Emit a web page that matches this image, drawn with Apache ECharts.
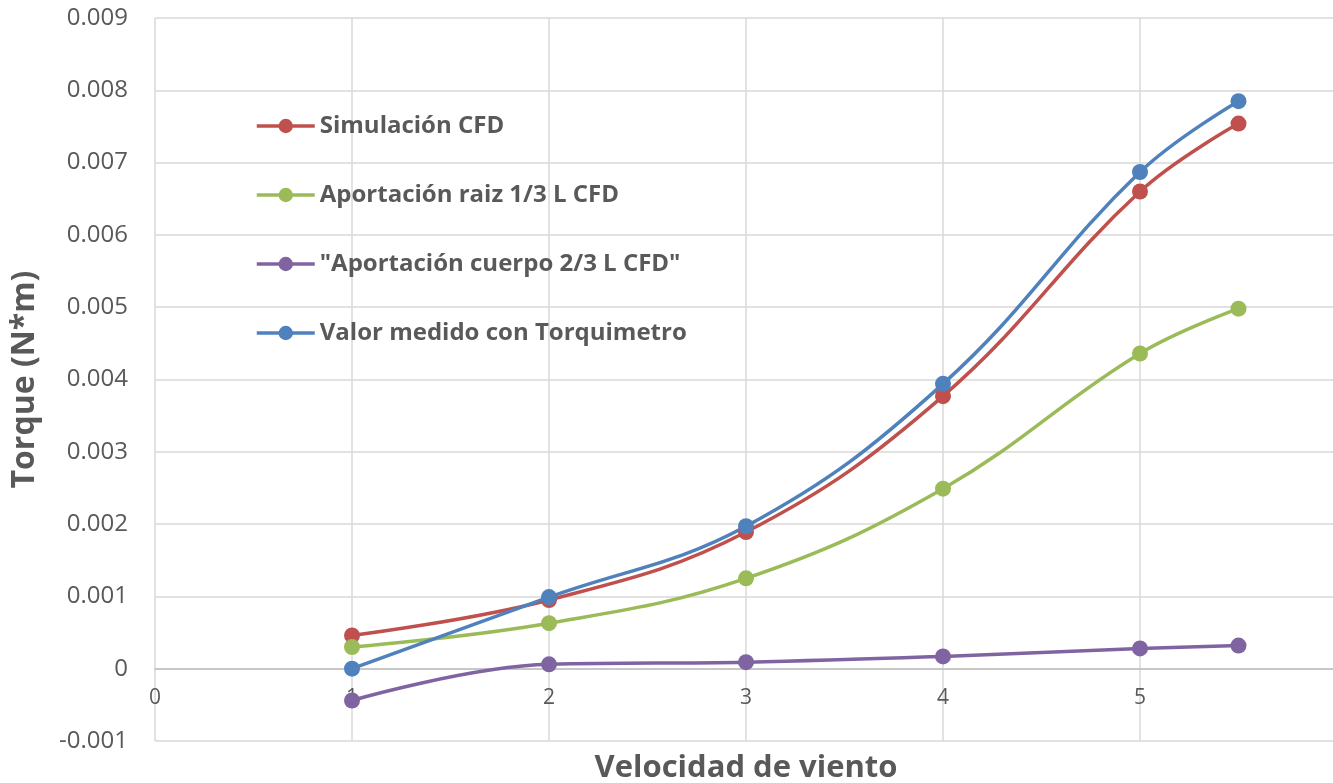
<!DOCTYPE html>
<html>
<head>
<meta charset="utf-8">
<title>Torque vs velocidad de viento</title>
<script src="https://cdn.jsdelivr.net/npm/echarts@6/dist/echarts.min.js"></script>
<style>
  html, body { margin: 0; padding: 0; background: #fff; }
  #chart { width: 1333px; height: 783px; }
</style>
</head>
<body>
<div id="chart"></div>
<script>
// velocidad de viento (m/s)
const velocidad = [1, 2, 3, 4, 5, 5.5];

const simulacionCFD = [0.00046, 0.00095, 0.00189, 0.00377, 0.0066, 0.00754];
const aportacionRaiz = [0.00030, 0.00063, 0.00125, 0.00249, 0.00436, 0.00498];
const aportacionCuerpo = [-0.00044, 0.00006, 0.00009, 0.00017, 0.00028, 0.00032];
const valorMedido = [0.0, 0.00099, 0.00197, 0.00394, 0.00687, 0.00785];

const seriesNames = [
  'Simulación CFD',
  'Aportación raiz 1/3 L CFD',
  '"Aportación cuerpo 2/3 L CFD"',
  'Valor medido con Torquimetro'
];
const seriesColors = ['#C0504D', '#9BBB59', '#8064A2', '#4F81BD'];
const seriesValues = [simulacionCFD, aportacionRaiz, aportacionCuerpo, valorMedido];

const textColor = '#595959';
const font = 'Open Sans';

const chart = echarts.init(document.getElementById('chart'));

const option = {
  animation: false,
  backgroundColor: '#fff',
  color: seriesColors,
  textStyle: { fontFamily: font },
  grid: { left: 155, right: -4, top: 18, bottom: 42, outerBoundsMode: 'none', containLabel: false },
  legend: {
    orient: 'vertical',
    left: 250,
    top: 109,
    itemWidth: 58,
    itemHeight: 18,
    itemGap: 45,
    lineStyle: { width: 3.5 },
    textStyle: { color: textColor, fontSize: 24, fontWeight: 'bold', fontFamily: font },
    data: seriesNames
  },
  xAxis: [{
    // labels sit just under the zero line, as in the original
    type: 'value',
    position: 'bottom',
    offset: -72,
    min: 0,
    max: 6,
    interval: 1,
    axisLine: { onZero: false, lineStyle: { color: '#bfbfbf', width: 1.5 } },
    axisTick: { show: false },
    axisLabel: {
      color: textColor, fontSize: 21, margin: 19, fontFamily: font,
      showMaxLabel: false
    },
    splitLine: { show: true, lineStyle: { color: '#d9d9d9', width: 1.5 } }
  }, {
    type: 'value',
    position: 'bottom',
    min: 0,
    max: 6,
    axisLine: { show: false, onZero: false },
    axisTick: { show: false },
    axisLabel: { show: false },
    splitLine: { show: false },
    name: 'Velocidad de viento',
    nameLocation: 'middle',
    nameGap: 12,
    nameTextStyle: { color: textColor, fontSize: 31, fontWeight: 'bold', fontFamily: font }
  }],
  yAxis: {
    type: 'value',
    min: -0.001,
    max: 0.009,
    interval: 0.001,
    axisLine: { show: false },
    axisTick: { show: false },
    axisLabel: { color: textColor, fontSize: 24, margin: 27, fontFamily: font },
    splitLine: { lineStyle: { color: '#d9d9d9', width: 1.5 } },
    name: 'Torque (N*m)',
    nameLocation: 'middle',
    nameGap: 114,
    nameTextStyle: { color: textColor, fontSize: 32, fontWeight: 'bold', fontFamily: font }
  },
  series: seriesNames.map((name, i) => ({
    name: name,
    type: 'line',
    xAxisIndex: 0,
    smooth: 0.4,
    symbol: 'circle',
    symbolSize: 16,
    lineStyle: { width: 3.5, color: seriesColors[i] },
    itemStyle: { color: seriesColors[i] },
    data: velocidad.map((v, k) => [v, seriesValues[i][k]])
  }))
};

chart.setOption(option);
</script>
</body>
</html>
